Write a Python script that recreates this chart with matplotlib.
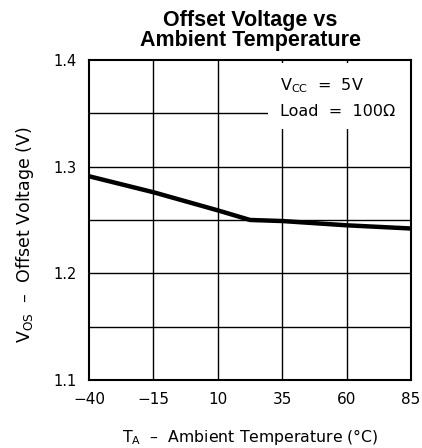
# Offset Voltage vs Ambient Temperature

import matplotlib.pyplot as plt
from matplotlib.patches import Rectangle

# -------------------- Data --------------------
temp_c = [-40, -15, 10, 22.5, 35, 60, 85]
vos_v = [1.291, 1.276, 1.259, 1.250, 1.249, 1.245, 1.242]

x_ticks = [-40, -15, 10, 35, 60, 85]
y_ticks = [1.1, 1.2, 1.3, 1.4]
y_grid = [1.15, 1.25, 1.35]

plt.rcParams['font.family'] = ['DejaVu Sans']

fig = plt.figure(figsize=(4.22, 4.48), dpi=100)
ax = fig.add_axes([0.211, 0.152, 0.763, 0.714])

# -------------------- Grid --------------------
for x in x_ticks[1:-1]:
    ax.axvline(x, color='black', lw=1.0, zorder=1)
for y in [1.2, 1.3] + y_grid:
    ax.axhline(y, color='black', lw=1.0, zorder=1)

# white box behind the conditions text
ax.add_patch(Rectangle((29.5, 1.335), 55, 0.062, facecolor='white',
                       edgecolor='none', zorder=2))
ax.text(34, 1.376, "V$_{\\mathregular{CC}}$  =  5V", fontsize=11.5, va='center', zorder=3)
ax.text(34, 1.352, "Load  =  100\u03a9", fontsize=11.5, va='center', zorder=3)

# -------------------- Curve --------------------
ax.plot(temp_c, vos_v, color='black', lw=3.2, solid_capstyle='butt', zorder=4)

ax.set_xlim(-40, 85)
ax.set_ylim(1.1, 1.4)
ax.set_xticks(x_ticks)
ax.set_yticks(y_ticks)
ax.set_yticklabels(["1.1", "1.2", "1.3", "1.4"])
ax.tick_params(length=0, labelsize=11, pad=9)
ax.tick_params(axis='y', labelsize=10.5, pad=9)
for s in ax.spines.values():
    s.set_linewidth(1.5)

ax.set_title("Offset Voltage vs\nAmbient Temperature", family='Liberation Sans',
             fontweight='bold', fontsize=15.5, linespacing=0.95, pad=10)
ax.set_xlabel("T$_{\\mathregular{A}}$  \u2013  Ambient Temperature (\u00b0C)", fontsize=11.3, labelpad=14)
ax.set_ylabel("V$_{\\mathregular{OS}}$  \u2013  Offset Voltage (V)", fontsize=12.5)
ax.yaxis.set_label_coords(-0.165, 0.453)

fig.savefig("out.png", dpi=100)
